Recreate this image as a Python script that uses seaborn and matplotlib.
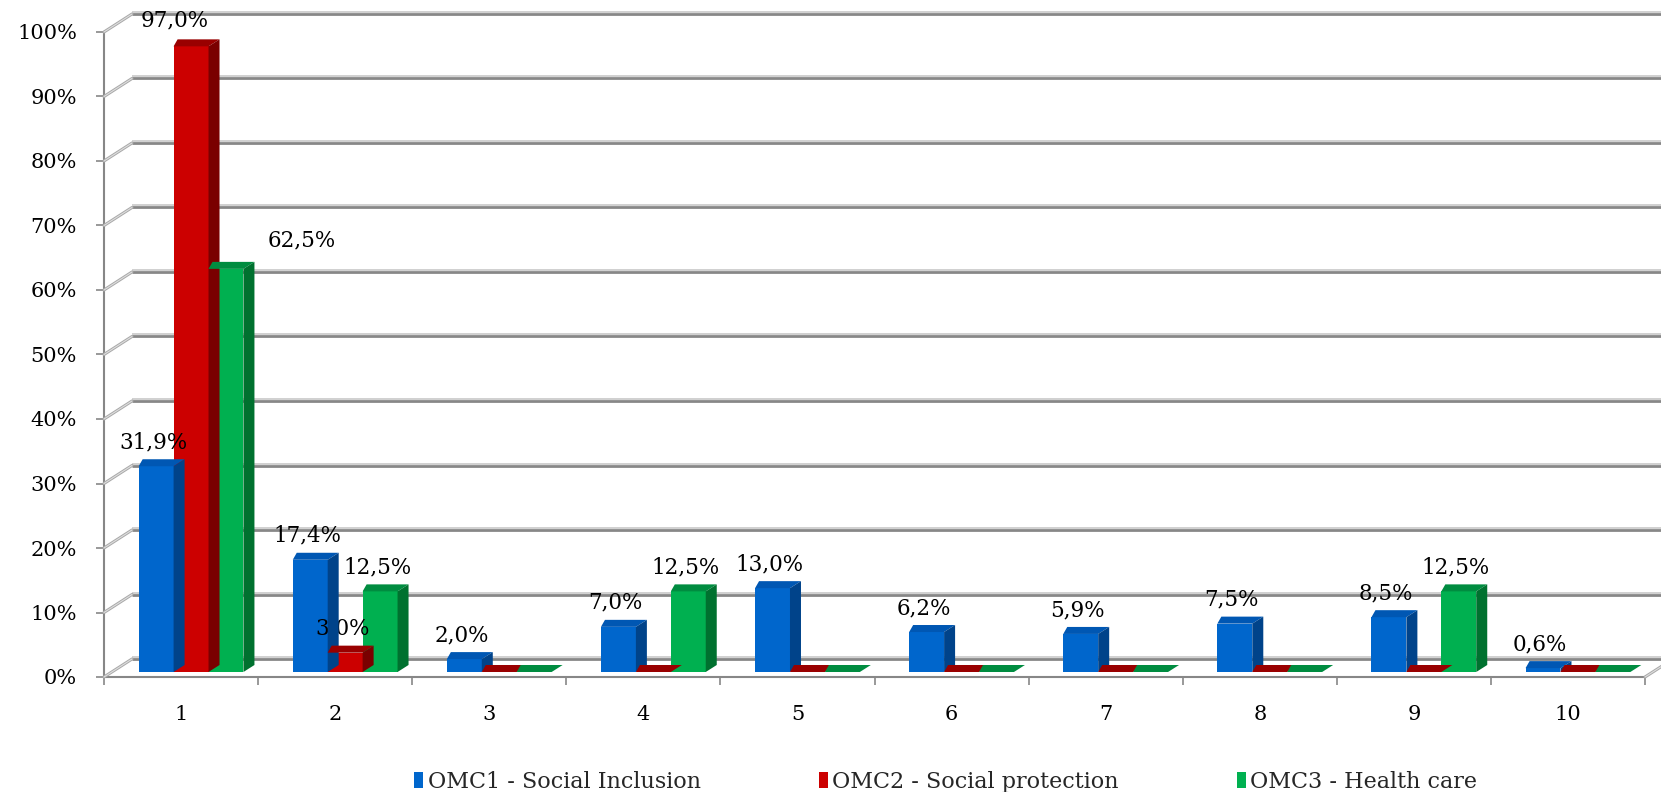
import numpy as np
import pandas as pd
import matplotlib
matplotlib.use("Agg")
import matplotlib.pyplot as plt
import matplotlib.transforms as mtransforms
from matplotlib.patches import Polygon, Patch
from matplotlib.lines import Line2D
import seaborn as sns

# ---- data -------------------------------------------------------------
categories = ["1", "2", "3", "4", "5", "6", "7", "8", "9", "10"]
series = ["OMC1 - Social Inclusion", "OMC2 - Social protection", "OMC3 - Health care"]
omc1 = [31.9, 17.4, 2.0, 7.0, 13.0, 6.2, 5.9, 7.5, 8.5, 0.6]
omc2 = [97.0, 3.0, 0.0, 0.0, 0.0, 0.0, 0.0, 0.0, 0.0, 0.0]
omc3 = [62.5, 12.5, 0.0, 12.5, 0.0, 0.0, 0.0, 0.0, 12.5, 0.0]
y_ticks = [0, 10, 20, 30, 40, 50, 60, 70, 80, 90, 100]
y_tick_labels = [f"{v}%" for v in y_ticks]

# ---- styling ------------------------------------------------------------
front_colors = ["#0066CC", "#CC0000", "#00B050"]
side_colors = ["#00438A", "#7A0000", "#00712F"]
top_colors = ["#0057B3", "#990000", "#008C40"]
grid_dark = "#878787"
grid_light = "#c4c4c4"

# label nudges (pixels) for labels moved aside to avoid overlaps
label_nudge = {(1, "1"): (-16, 26), (2, "1"): (76, 28)}
default_nudge = (-3, 24)

sns.set_theme(style="white")
plt.rcParams["font.family"] = ["DejaVu Serif"]

W, H, DPI = 1661, 792, 100
fig = plt.figure(figsize=(W / DPI, H / DPI), dpi=DPI, facecolor="white")
x_left, x_right, y_zero, y_top = 104, 1645, 677, 32
ax = fig.add_axes([x_left / W, 1 - y_zero / H, (x_right - x_left) / W, (y_zero - y_top) / H])
ax.set_facecolor("none")

df = pd.DataFrame({
    "category": categories * 3,
    "series": np.repeat(series, len(categories)),
    "value": omc1 + omc2 + omc3,
})

sns.barplot(data=df, x="category", y="value", hue="series", order=categories,
            hue_order=series, palette=front_colors, width=0.68, saturation=1,
            dodge=True, errorbar=None, legend=False, ax=ax)

ax.set_xlim(-0.5, 9.5)
ax.set_ylim(0, 100)
ax.set_xlabel("")
ax.set_ylabel("")

px = 1.0 / DPI
wall_shift = mtransforms.ScaledTranslation(28 * px, 18 * px, fig.dpi_scale_trans)
wall_shift_hi = mtransforms.ScaledTranslation(28 * px, 20 * px, fig.dpi_scale_trans)
bar_shift = mtransforms.ScaledTranslation(10 * px, 5 * px, fig.dpi_scale_trans)
ident = mtransforms.IdentityTransform()

# back wall gridlines
for v in y_ticks:
    ax.plot([-0.5, 9.5], [v, v], transform=ax.transData + wall_shift, color=grid_dark,
            lw=2.0, clip_on=False, zorder=1, solid_capstyle="butt")
    ax.plot([-0.5, 9.5], [v, v], transform=ax.transData + wall_shift_hi, color=grid_light,
            lw=1.1, clip_on=False, zorder=1.1, solid_capstyle="butt")

# side wall gridlines and floor edge
for xv, vals in [(-0.5, y_ticks), (9.5, [0])]:
    for v in vals:
        p0 = ax.transData.transform((xv, v))
        ln = Line2D([p0[0], p0[0] + 28], [p0[1], p0[1] + 18], transform=ident,
                    color="#a8a8a8", lw=2.2, zorder=1)
        fig.add_artist(ln)
        ln2 = Line2D([p0[0], p0[0] + 28], [p0[1], p0[1] + 18], transform=ident,
                     color="#dedede", lw=0.8, zorder=1.05)
        fig.add_artist(ln2)

# 3D columns: shift front faces into the bar plane, add top and side faces
side_depth, left_depth, top_depth = 11, 4, 7
bar_trans = ax.transData + bar_shift
for i, cont in enumerate(ax.containers):
    for j, patch in enumerate(cont.patches):
        patch.set_transform(bar_trans)
        patch.set_zorder(3 + i * 0.1 + 0.05)
        patch.set_edgecolor("none")
        patch.set_clip_on(False)
        x0, w, h = patch.get_x(), patch.get_width(), patch.get_height()
        X0, Yb = bar_trans.transform((x0, 0))
        X1, Yt = bar_trans.transform((x0 + w, h))
        top = Polygon([(X0, Yt), (X1, Yt), (X1 + side_depth, Yt + top_depth),
                       (X0 + left_depth, Yt + top_depth)], closed=True,
                      transform=ident, facecolor=top_colors[i], edgecolor="none",
                      zorder=3 + i * 0.1)
        fig.add_artist(top)
        if h > 0:
            side = Polygon([(X1, Yb), (X1 + side_depth, Yb + top_depth),
                            (X1 + side_depth, Yt + top_depth), (X1, Yt)], closed=True,
                           transform=ident, facecolor=side_colors[i], edgecolor="none",
                           zorder=3 + i * 0.1)
            fig.add_artist(side)
            dx, dy = label_nudge.get((i, categories[j]), default_nudge)
            ax.annotate(f"{h:.1f}%".replace(".", ","), xy=(x0 + w / 2, h), xycoords=bar_trans,
                        xytext=(dx, dy), textcoords="offset pixels", ha="center", va="center",
                        fontsize=15.5, color="black", zorder=5, annotation_clip=False)

# axes, ticks and labels
for s in ["top", "right"]:
    ax.spines[s].set_visible(False)
for s in ["left", "bottom"]:
    ax.spines[s].set_color(grid_dark)
    ax.spines[s].set_linewidth(1.5)
    ax.spines[s].set_zorder(2)

ax.set_yticks(y_ticks, y_tick_labels)
ax.tick_params(axis="y", which="major", left=True, length=5.5, width=1.2, color=grid_dark,
               pad=14, labelsize=15, labelcolor="black")
ax.set_xticks(range(len(categories)), categories)
ax.set_xticks(np.arange(-0.5, len(categories), 1.0), minor=True)
ax.tick_params(axis="x", which="major", bottom=False, length=0, pad=20, labelsize=15,
               labelcolor="black")
ax.tick_params(axis="x", which="minor", bottom=True, length=5.5, width=1.2, color=grid_dark)
ax.grid(False)

handles = [Patch(facecolor=c, edgecolor="none") for c in front_colors]
fig.legend(handles, series, loc="center left", bbox_to_anchor=(414 / W, 1 - 782 / H),
           ncol=3, frameon=False, fontsize=16, handlelength=0.42, handleheight=0.72,
           handletextpad=0.2, columnspacing=5.3, borderpad=0, borderaxespad=0)

fig.savefig("out.png", dpi=DPI, facecolor="white")
